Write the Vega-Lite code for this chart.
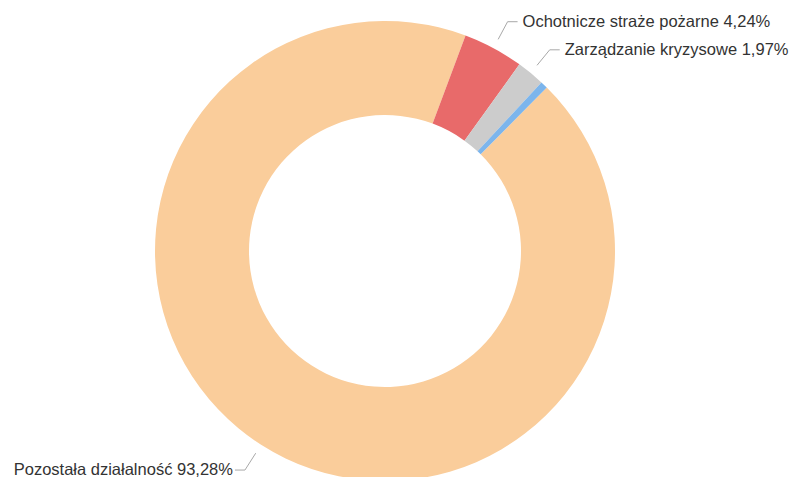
{
  "$schema": "https://vega.github.io/schema/vega-lite/v6.json",
  "width": 770,
  "height": 502,
  "autosize": {"type": "none"},
  "padding": {"left": 0, "top": 0, "right": 22, "bottom": 0},
  "background": "white",
  "config": {"view": {"stroke": null}},
  "data": {
    "values": [
      {"category": "Pozostała działalność", "value": 93.28},
      {"category": "Ochotnicze straże pożarne", "value": 4.24},
      {"category": "Zarządzanie kryzysowe", "value": 1.97},
      {"category": "Obrona cywilna", "value": 0.51}
    ]
  },
  "transform": [
    {"joinaggregate": [{"op": "sum", "field": "value", "as": "total"}]},
    {"stack": "value", "groupby": [], "sort": [{"field": "value", "order": "descending"}], "as": ["v0", "v1"]},
    {"calculate": "0.780 + PI * (datum.v0 + datum.v1) / datum.total", "as": "mid"},
    {"calculate": "240 * sin(datum.mid)", "as": "lx1"},
    {"calculate": "240 * cos(datum.mid)", "as": "ly1"},
    {"calculate": "260 * sin(datum.mid)", "as": "lx2"},
    {"calculate": "260 * cos(datum.mid)", "as": "ly2"},
    {"calculate": "sin(datum.mid) >= 0 ? 1 : -1", "as": "side"},
    {"calculate": "datum.lx2 + 10 * datum.side", "as": "lx3"},
    {"calculate": "datum.side > 0 ? datum.lx2 + 15 : datum.lx2 - 12", "as": "tx"},
    {"calculate": "datum.category + ' ' + replace(format(datum.value, '.2f'), '.', ',') + '%'", "as": "label"}
  ],
  "layer": [
    {
      "mark": {"type": "arc", "outerRadius": 230, "innerRadius": 136},
      "encoding": {
        "theta": {"field": "v0", "type": "quantitative", "scale": {"domain": [0, 100], "range": [0.780, 7.0632]}},
        "theta2": {"field": "v1"},
        "color": {
          "field": "category",
          "type": "nominal",
          "scale": {
            "domain": ["Pozostała działalność", "Ochotnicze straże pożarne", "Zarządzanie kryzysowe", "Obrona cywilna"],
            "range": ["#facd9b", "#e86a6a", "#cccccc", "#7cb5ec"]
          },
          "legend": null
        }
      }
    },
    {
      "transform": [{"filter": "datum.category !== 'Obrona cywilna'"}],
      "mark": {"type": "rule", "color": "#a8a8a8", "strokeWidth": 1},
      "encoding": {
        "x": {"field": "lx1", "type": "quantitative", "scale": {"domain": [-385, 385], "nice": false, "zero": false}, "axis": null},
        "y": {"field": "ly1", "type": "quantitative", "scale": {"domain": [-251, 251], "nice": false, "zero": false}, "axis": null},
        "x2": {"field": "lx2"},
        "y2": {"field": "ly2"}
      }
    },
    {
      "transform": [{"filter": "datum.category !== 'Obrona cywilna'"}],
      "mark": {"type": "rule", "color": "#a8a8a8", "strokeWidth": 1},
      "encoding": {
        "x": {"field": "lx2", "type": "quantitative", "scale": {"domain": [-385, 385], "nice": false, "zero": false}, "axis": null},
        "y": {"field": "ly2", "type": "quantitative", "scale": {"domain": [-251, 251], "nice": false, "zero": false}, "axis": null},
        "x2": {"field": "lx3"},
        "y2": {"field": "ly2"}
      }
    },
    {
      "transform": [{"filter": "datum.category !== 'Obrona cywilna' && datum.side > 0"}],
      "mark": {"type": "text", "align": "left", "baseline": "middle", "font": "Liberation Sans", "fontSize": 16.5, "color": "#333333"},
      "encoding": {
        "x": {"field": "tx", "type": "quantitative", "scale": {"domain": [-385, 385], "nice": false, "zero": false}, "axis": null},
        "y": {"field": "ly2", "type": "quantitative", "scale": {"domain": [-251, 251], "nice": false, "zero": false}, "axis": null},
        "text": {"field": "label"}
      }
    },
    {
      "transform": [{"filter": "datum.category !== 'Obrona cywilna' && datum.side < 0"}],
      "mark": {"type": "text", "align": "right", "baseline": "middle", "font": "Liberation Sans", "fontSize": 16.5, "color": "#333333"},
      "encoding": {
        "x": {"field": "tx", "type": "quantitative", "scale": {"domain": [-385, 385], "nice": false, "zero": false}, "axis": null},
        "y": {"field": "ly2", "type": "quantitative", "scale": {"domain": [-251, 251], "nice": false, "zero": false}, "axis": null},
        "text": {"field": "label"}
      }
    }
  ]
}
